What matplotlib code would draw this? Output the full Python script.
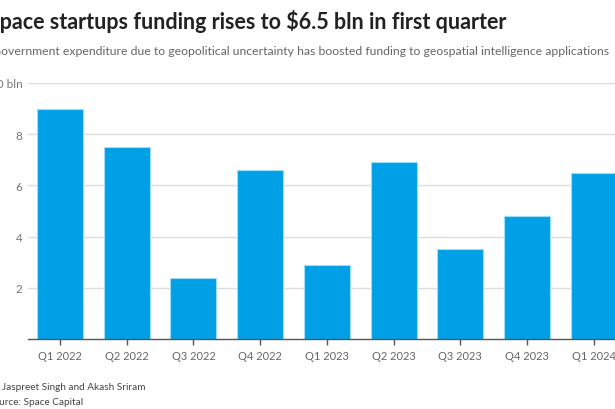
import matplotlib
matplotlib.use("Agg")
import matplotlib.pyplot as plt

categories = ["Q1 2022", "Q2 2022", "Q3 2022", "Q4 2022", "Q1 2023",
              "Q2 2023", "Q3 2023", "Q4 2023", "Q1 2024"]
funding_bln = [9.0, 7.5, 2.4, 6.6, 2.9, 6.9, 3.5, 4.8, 6.5]
ytick_vals = [2, 4, 6, 8, 10]
ytick_labels = ["2", "4", "6", "8", "$10 bln"]

title = "Space startups funding rises to $6.5 bln in first quarter"
subtitle = ("Government expenditure due to geopolitical uncertainty has boosted "
            "funding to geospatial intelligence applications")
footer1 = "By Jaspreet Singh and Akash Sriram"
footer2 = "Source: Space Capital"

plt.rcParams['font.family'] = ['Lato', 'DejaVu Sans']

W, H = 615, 410
fig = plt.figure(figsize=(W / 100, H / 100), dpi=100)

def px(x, y):
    return x / W, 1 - y / H

ax_left, ax_right, ax_top, ax_bottom = 28, 625.7, 84, 340
ax = fig.add_axes([ax_left / W, 1 - ax_bottom / H,
                   (ax_right - ax_left) / W, (ax_bottom - ax_top) / H])

xs = list(range(len(categories)))
ax.bar(xs, funding_bln, width=0.69, color="#00A0E6",
       edgecolor="#9fdcf7", linewidth=0.8, zorder=3)
ax.set_xlim(-0.48, 8.48)
ax.set_ylim(0, 10)

ax.set_yticks(ytick_vals)
ax.set_yticklabels(ytick_labels)
ax.yaxis.grid(True, color="#dddddd", linewidth=1, zorder=0)
ax.tick_params(axis="y", length=0, pad=4, labelsize=8.5, labelcolor="#777777")
ax.set_xticks(xs)
ax.set_xticklabels(categories)
ax.tick_params(axis="x", length=4, width=1, color="#555555", pad=4,
               labelsize=8, labelcolor="#666666")

for s in ["top", "right", "left"]:
    ax.spines[s].set_visible(False)
ax.spines["bottom"].set_color("#555555")
ax.spines["bottom"].set_linewidth(1)
ax.spines["bottom"].set_zorder(4)
ax.set_facecolor("none")

fig.text(*px(-12, 29), title, fontsize=15.5, fontweight="bold",
         color="#222222", ha="left", va="baseline")
fig.text(*px(-8, 55), subtitle, fontsize=8.85, color="#666666",
         ha="left", va="baseline")
fig.text(*px(-12, 390), footer1, fontsize=7.2, color="#444444",
         ha="left", va="baseline")
fig.text(*px(-12, 405), footer2, fontsize=7.2, color="#444444",
         ha="left", va="baseline")

fig.savefig("out.png", dpi=100)
